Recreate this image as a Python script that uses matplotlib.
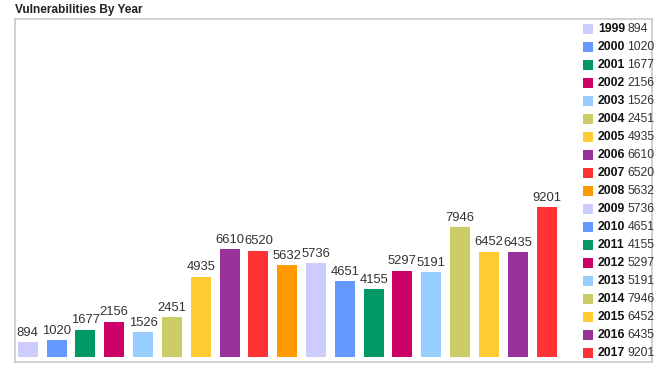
import matplotlib
matplotlib.use("Agg")
import matplotlib.pyplot as plt
from matplotlib.patches import Rectangle

plt.rcParams['font.family'] = ['Liberation Sans', 'DejaVu Sans']

years = ["1999", "2000", "2001", "2002", "2003", "2004", "2005", "2006", "2007", "2008",
         "2009", "2010", "2011", "2012", "2013", "2014", "2015", "2016", "2017"]
values = [894, 1020, 1677, 2156, 1526, 2451, 4935, 6610, 6520, 5632,
          5736, 4651, 4155, 5297, 5191, 7946, 6452, 6435, 9201]
palette = ["#ccccff", "#6699ff", "#009966", "#cc0066", "#99ccff",
           "#cccc66", "#ffcc33", "#993399", "#ff3333", "#ff9900"]
colors = [palette[i % len(palette)] for i in range(len(years))]

W, H = 663, 368
fig = plt.figure(figsize=(W / 100, H / 100), dpi=100)

# frame in pixels
fl, fr, ft, fb = 15, 652, 19, 362
ax = fig.add_axes([fl / W, 1 - fb / H, (fr - fl) / W, (fb - ft) / H])
for s in ax.spines.values():
    s.set_color("#c8c8c8")
    s.set_linewidth(1.2)
ax.set_xticks([])
ax.set_yticks([])

c0 = 27.8
step = (546.5 - c0) / 18
ax.set_xlim((fl - c0) / step, (fr - c0) / step)
ppx = 9201 / 150.0
base_off = 5
ax.set_ylim(-base_off * ppx, (fb - ft - base_off) * ppx)

x = list(range(len(years)))
ax.bar(x, values, width=20 / step, color=colors, edgecolor="none", zorder=2)
for xi, v in zip(x, values):
    ax.annotate(str(v), (xi, v), xytext=(0, 2.5), textcoords="offset points",
                ha="center", va="bottom", fontsize=9.4, color="#333333")

fig.text(15 / W, 1 - 10.5 / H, "Vulnerabilities By Year", ha="left", va="center",
         fontsize=8.6, fontweight="bold", color="#222222")

# legend
y0, dy = 29.0, 18.0
for i, (yr, v, c) in enumerate(zip(years, values, colors)):
    yc = y0 + i * dy
    fig.patches.append(Rectangle((583 / W, 1 - (yc + 5) / H), 10 / W, 10 / H,
                                 transform=fig.transFigure, facecolor=c, edgecolor="none"))
    fig.text(598 / W, 1 - yc / H, yr, ha="left", va="center", fontsize=8.8,
             fontweight="bold", color="#111111")
    fig.text(627.5 / W, 1 - yc / H, str(v), ha="left", va="center", fontsize=8.8,
             color="#333333")

fig.savefig("out.png", dpi=100)
